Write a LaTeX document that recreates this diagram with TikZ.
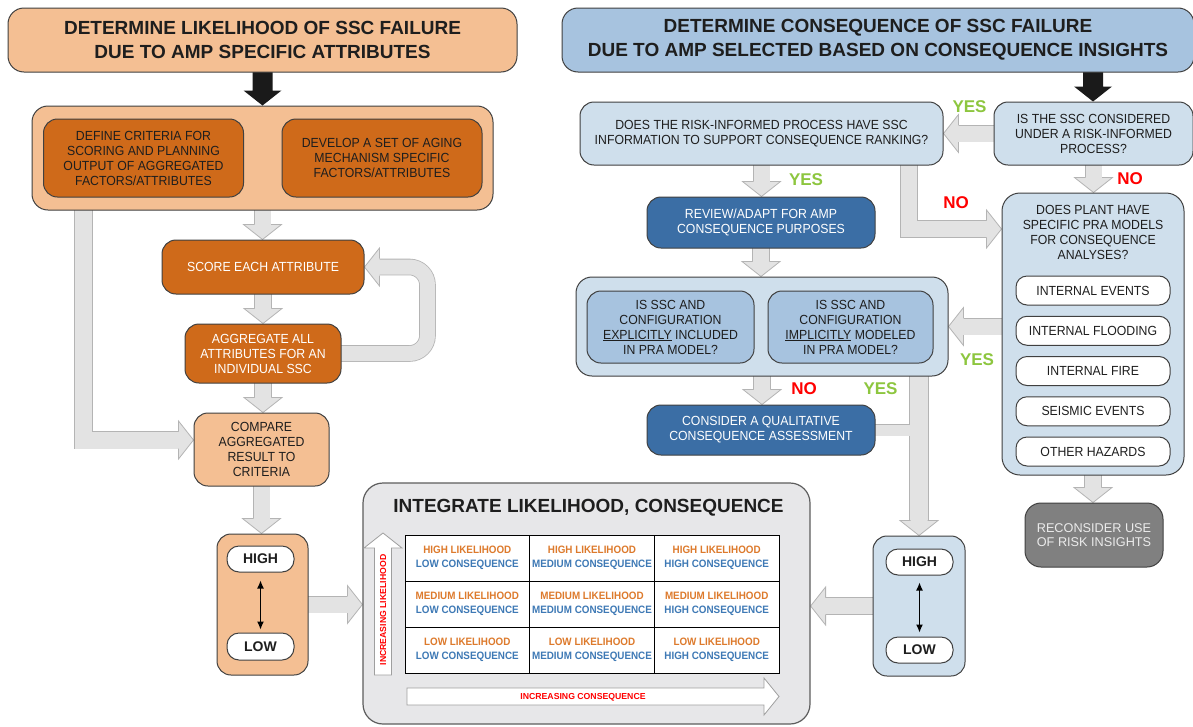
\documentclass[tikz,border=0pt]{standalone}
\usepackage{fontspec}
\setmainfont{Liberation Sans}
\newfontfamily\narrowfont[FakeStretch=0.93]{Liberation Sans}
\newfontfamily\cellnarrow[FakeStretch=0.92]{Liberation Sans}
\usetikzlibrary{calc,arrows.meta}
\pgfdeclarelayer{bg}
\pgfsetlayers{bg,main}
\definecolor{peach}{HTML}{F4BF93}
\definecolor{dorange}{HTML}{CF6A1A}
\definecolor{ltblue}{HTML}{A7C3DF}
\definecolor{pblue}{HTML}{CFDFEC}
\definecolor{dblue}{HTML}{3B6EA5}
\definecolor{ggray}{HTML}{808080}
\definecolor{intgray}{HTML}{E7E7E9}
\definecolor{bord}{HTML}{404040}
\definecolor{afill}{HTML}{E3E3E3}
\definecolor{aborder}{HTML}{B4B4B4}
\definecolor{yesgreen}{HTML}{8DC63F}
\definecolor{nored}{HTML}{FF0000}
\definecolor{lorange}{HTML}{DD7A2C}
\definecolor{cblue}{HTML}{3E79B5}
\definecolor{txt}{HTML}{1E1E1E}
\definecolor{blackarr}{HTML}{1A1A1A}
\newcommand\boxfont{\narrowfont\fontsize{13.2}{15}\selectfont}
\newcommand\cellfont{\cellnarrow\bfseries\fontsize{10.7}{13.5}\selectfont}
\newcommand\cl[2]{\textcolor{lorange}{#1 LIKELIHOOD}\\\textcolor{cblue}{#2 CONSEQUENCE}}
\newcommand\ghead[2]{%
  \begin{scope}[shift={(#1)}, rotate=#2]
    \fill[afill] (0,0) -- (-15,19) -- (-15,-19) -- cycle;
    \draw[aborder, line width=0.8pt, line join=miter] (-15,8.5) -- (-15,19) -- (0,0) -- (-15,-19) -- (-15,-8.5);
  \end{scope}}
\newcommand\gdown[2]{%
  \draw[blk] ($(#1.south)+(0,-3)$) -- ($(#1.south |- #2.north)+(0,-14)$);
  \ghead{#1.south |- #2.north}{-90}}
\newcommand\gleft[2]{%
  \draw[blk] ($(#1.west)+(3,0)$) -- ($(#1.west -| #2.east)+(14,0)$);
  \ghead{#1.west -| #2.east}{180}}
\newcommand\gright[2]{%
  \draw[blk] ($(#1.east)+(-3,0)$) -- ($(#1.east -| #2.west)+(-14,0)$);
  \ghead{#1.east -| #2.west}{0}}
\newcommand\blkdown[2]{%
  \fill[blackarr] let \p1=(#1), \p2=(#2) in
    (\x2-10pt,\y1+2pt) -- (\x2-10pt,\y2+15pt) -- (\x2-19pt,\y2+15pt) -- (\x2,\y2)
    -- (\x2+19pt,\y2+15pt) -- (\x2+10pt,\y2+15pt) -- (\x2+10pt,\y1+2pt) -- cycle;}
\tikzset{
  blk/.style={draw=aborder, line width=0.8pt, double=afill, double distance=16pt},
  base/.style={draw=bord, line width=1pt, inner sep=0pt, align=center, text=txt},
  ttl/.style={base, rounded corners=16pt, font=\fontsize{19}{24}\selectfont\bfseries},
  bx/.style={base, rounded corners=14pt, font=\boxfont},
  pill/.style={base, fill=white, rounded corners=11pt, minimum width=154pt, minimum height=29pt, font=\boxfont},
  hl/.style={base, fill=white, rounded corners=12pt, minimum width=67pt, minimum height=26pt, font=\fontsize{14}{15}\selectfont\bfseries},
  lab/.style={inner sep=0pt, font=\fontsize{17}{17}\selectfont\bfseries},
  cell/.style={draw=black, line width=0.8pt, fill=white, minimum width=124.67pt, minimum height=46pt, inner sep=0pt, align=center, font=\cellfont},
  warr/.style={draw=gray!75, line width=0.8pt, fill=white, line join=miter},
  wtxt/.style={inner sep=0pt, text=nored, font=\fontsize{8.7}{9}\selectfont\bfseries},
}
\begin{document}
\begin{tikzpicture}[x=1pt,y=-1pt]
\useasboundingbox (0,0) rectangle (1193,726);
\begin{pgfonlayer}{bg}
\fill[white] (0,0) rectangle (1193,726);
\end{pgfonlayer}

% ---------------- left column ----------------
\node[ttl, fill=peach, minimum width=509pt, minimum height=64pt] (tL) at (262.5,40)
  {DETERMINE LIKELIHOOD OF SSC FAILURE\\DUE TO AMP SPECIFIC ATTRIBUTES};
\node[bx, fill=peach, rounded corners=16pt, minimum width=461pt, minimum height=104pt] (c1) at (262.5,158) {};
\node[bx, fill=dorange, minimum width=200pt, minimum height=78pt] (d1) at (143.5,158)
  {DEFINE CRITERIA FOR\\SCORING AND PLANNING\\OUTPUT OF AGGREGATED\\FACTORS/ATTRIBUTES};
\node[bx, fill=dorange, minimum width=200pt, minimum height=78pt] (d2) at (382,158)
  {DEVELOP A SET OF AGING\\MECHANISM SPECIFIC\\FACTORS/ATTRIBUTES};
\node[bx, fill=dorange, text=white, minimum width=202pt, minimum height=54pt] (score) at (263,267)
  {SCORE EACH ATTRIBUTE};
\node[bx, fill=dorange, text=white, minimum width=156pt, minimum height=59pt] (agg) at (263,353.5)
  {AGGREGATE ALL\\ATTRIBUTES FOR AN\\INDIVIDUAL SSC};
\node[bx, fill=peach, minimum width=135pt, minimum height=73pt] (cmp) at (261.5,449.5)
  {COMPARE\\AGGREGATED\\RESULT TO\\CRITERIA};
\node[bx, fill=peach, minimum width=91pt, minimum height=141pt] (hlL) at (262.5,604.5) {};
\node[hl] (highL) at (260.5,559) {HIGH};
\node[hl, minimum height=27pt] (lowL) at (260.5,646.5) {LOW};
\draw[{Latex[length=8pt,width=7pt]}-{Latex[length=8pt,width=7pt]}, line width=1.1pt, shorten <=8pt, shorten >=3pt] (highL.south) -- (lowL.north);

% ---------------- integrate ----------------
\node[base, draw=bord!85, line width=1.2pt, fill=intgray, rounded corners=20pt, minimum width=447pt, minimum height=241pt] (integ) at (586.5,603.5) {};
\node[inner sep=0pt, font=\fontsize{19}{24}\selectfont\bfseries, text=txt] (integT) at (588.5,508) {INTEGRATE LIKELIHOOD, CONSEQUENCE};
\node[cell] (g11) at (467.3,558) {\cl{HIGH}{LOW}};
\node[cell] (g12) at (592,558) {\cl{HIGH}{MEDIUM}};
\node[cell] (g13) at (716.7,558) {\cl{HIGH}{HIGH}};
\node[cell] (g21) at (467.3,604) {\cl{MEDIUM}{LOW}};
\node[cell] (g22) at (592,604) {\cl{MEDIUM}{MEDIUM}};
\node[cell] (g23) at (716.7,604) {\cl{MEDIUM}{HIGH}};
\node[cell] (g31) at (467.3,650) {\cl{LOW}{LOW}};
\node[cell] (g32) at (592,650) {\cl{LOW}{MEDIUM}};
\node[cell] (g33) at (716.7,650) {\cl{LOW}{HIGH}};
\draw[warr] (374.5,675) -- (374.5,548) -- (364,548) -- (383,533) -- (402,548) -- (391.5,548) -- (391.5,675) -- cycle;
\node[wtxt, rotate=90] (incL) at (383,610) {INCREASING LIKELIHOOD};
\draw[warr] (407,688) -- (764,688) -- (764,678) -- (779,696.5) -- (764,715) -- (764,705) -- (407,705) -- cycle;
\node[wtxt] (incC) at (583,697) {INCREASING CONSEQUENCE};

% ---------------- right column ----------------
\node[ttl, fill=ltblue, minimum width=632pt, minimum height=64pt] (tR) at (878,40)
  {DETERMINE CONSEQUENCE OF SSC FAILURE\\DUE TO AMP SELECTED BASED ON CONSEQUENCE INSIGHTS};
\node[bx, fill=pblue, minimum width=199pt, minimum height=63pt] (b1) at (1093.5,133.5)
  {IS THE SSC CONSIDERED\\UNDER A RISK-INFORMED\\PROCESS?};
\node[bx, fill=pblue, minimum width=363pt, minimum height=63pt] (q) at (761.5,133.5)
  {DOES THE RISK-INFORMED PROCESS HAVE SSC\\INFORMATION TO SUPPORT CONSEQUENCE RANKING?};
\node[bx, fill=dblue, text=white, minimum width=228pt, minimum height=51pt] (rev) at (761,222.5)
  {REVIEW/ADAPT FOR AMP\\CONSEQUENCE PURPOSES};
\node[bx, fill=pblue, rounded corners=16pt, minimum width=372pt, minimum height=99pt] (cont) at (762,326.5) {};
\node[bx, fill=ltblue, minimum width=167pt, minimum height=72pt] (ex) at (670.5,327)
  {IS SSC AND\\CONFIGURATION\\\underline{EXPLICITLY} INCLUDED\\IN PRA MODEL?};
\node[bx, fill=ltblue, minimum width=165pt, minimum height=72pt] (im) at (850.5,327)
  {IS SSC AND\\CONFIGURATION\\\underline{IMPLICITLY} MODELED\\IN PRA MODEL?};
\node[bx, fill=dblue, text=white, minimum width=228pt, minimum height=50pt] (cons) at (761,430)
  {CONSIDER A QUALITATIVE\\CONSEQUENCE ASSESSMENT};
\node[bx, fill=pblue, rounded corners=18pt, minimum width=182pt, minimum height=282pt] (dp) at (1093,334) {};
\node[inner sep=0pt, align=center, font=\boxfont, text=txt] (dpT) at (1093,232.5)
  {DOES PLANT HAVE\\SPECIFIC PRA MODELS\\FOR CONSEQUENCE\\ANALYSES?};
\node[pill] (p1) at (1093,290.5) {INTERNAL EVENTS};
\node[pill] (p2) at (1093,330.75) {INTERNAL FLOODING};
\node[pill] (p3) at (1093,371) {INTERNAL FIRE};
\node[pill] (p4) at (1093,411.25) {SEISMIC EVENTS};
\node[pill] (p5) at (1093,451.5) {OTHER HAZARDS};
\node[bx, fill=ggray, text=black!8, rounded corners=16pt, minimum width=138pt, minimum height=64pt,
  font=\fontsize{12.7}{14.5}\selectfont] (rec) at (1094,535) {RECONSIDER USE\\OF RISK INSIGHTS};
\node[bx, fill=pblue, minimum width=92pt, minimum height=140pt] (hlR) at (919,606) {};
\node[hl] (highR) at (919.5,562) {HIGH};
\node[hl] (lowR) at (919.5,650) {LOW};
\draw[{Latex[length=8pt,width=7pt]}-{Latex[length=8pt,width=7pt]}, line width=1.1pt, shorten <=7pt, shorten >=4pt] (highR.south) -- (lowR.north);

% labels
\node[lab, text=yesgreen] (y1) at (969.5,107) {YES};
\node[lab, text=yesgreen] (y2) at (806,180) {YES};
\node[lab, text=nored] (n1) at (1130,178.5) {NO};
\node[lab, text=nored] (n2) at (956,203) {NO};
\node[lab, text=yesgreen] (y3) at (977,360) {YES};
\node[lab, text=nored] (n3) at (804,389) {NO};
\node[lab, text=yesgreen] (y4) at (880.5,389) {YES};

% named bend points
\coordinate (lb) at (83.5,440);
\coordinate (loopx) at (427.5,0);
\coordinate (nb) at (909,229);

% ---------------- connectors ----------------
\begin{pgfonlayer}{bg}
\blkdown{tL.south}{c1.north}
\blkdown{tR.south}{$(b1.north)+(-0.5,0)$}
\fill[blackarr] let \p1=(d1.east), \p2=(d2.west) in
  (\x1,\y1) -- (\x1+12pt,\y1+15pt) -- (\x1+12pt,\y1+6.5pt) -- (\x2-12pt,\y1+6.5pt) -- (\x2-12pt,\y1+15pt)
  -- (\x2,\y1) -- (\x2-12pt,\y1-15pt) -- (\x2-12pt,\y1-6.5pt) -- (\x1+12pt,\y1-6.5pt) -- (\x1+12pt,\y1-15pt) -- cycle;
% left column
\gdown{c1}{score}
\gdown{score}{agg}
\gdown{agg}{cmp}
\gdown{cmp}{hlL}
\draw[blk, double distance=17pt] ($(c1.south -| lb)+(0,-3)$) -- (lb) -- ($(lb -| cmp.west)+(-14,0)$);
\ghead{lb -| cmp.west}{0}
\draw[blk, double distance=15pt, rounded corners=18pt] ($(agg.east)+(-3,0)$) -- (agg.east -| loopx) -- (score.east -| loopx) -- ($(score.east)+(14,0)$);
\ghead{score.east}{180}
\gright{hlL}{integ}
% right column
\gleft{b1}{q}
\gdown{q}{rev}
\gdown{rev}{cont}
\gdown{cont}{cons}
\gdown{b1}{dp}
\gdown{dp}{rec}
\draw[blk] ($(q.south -| nb)+(0,-3)$) -- (nb) -- ($(nb -| dp.west)+(-14,0)$);
\ghead{nb -| dp.west}{0}
\draw[blk] ($(cont.east -| dp.west)+(3,0)$) -- ($(cont.east)+(14,0)$);
\ghead{cont.east}{180}
% vertical bar with junction from CONSIDER
\draw[aborder, line width=19.6pt] ($(cont.south -| hlR.north)+(0,-3)$) -- ($(hlR.north)+(0,-14)$);
\draw[aborder, line width=12.6pt] ($(cons.east)+(-3,0)$) -- (cons.east -| hlR.north);
\draw[afill, line width=18pt] ($(cont.south -| hlR.north)+(0,-3)$) -- ($(hlR.north)+(0,-14)$);
\draw[afill, line width=11pt] ($(cons.east)+(-3,0)$) -- (cons.east -| hlR.north);
\ghead{hlR.north}{-90}
\gleft{hlR}{integ}
\end{pgfonlayer}
\end{tikzpicture}
\end{document}
